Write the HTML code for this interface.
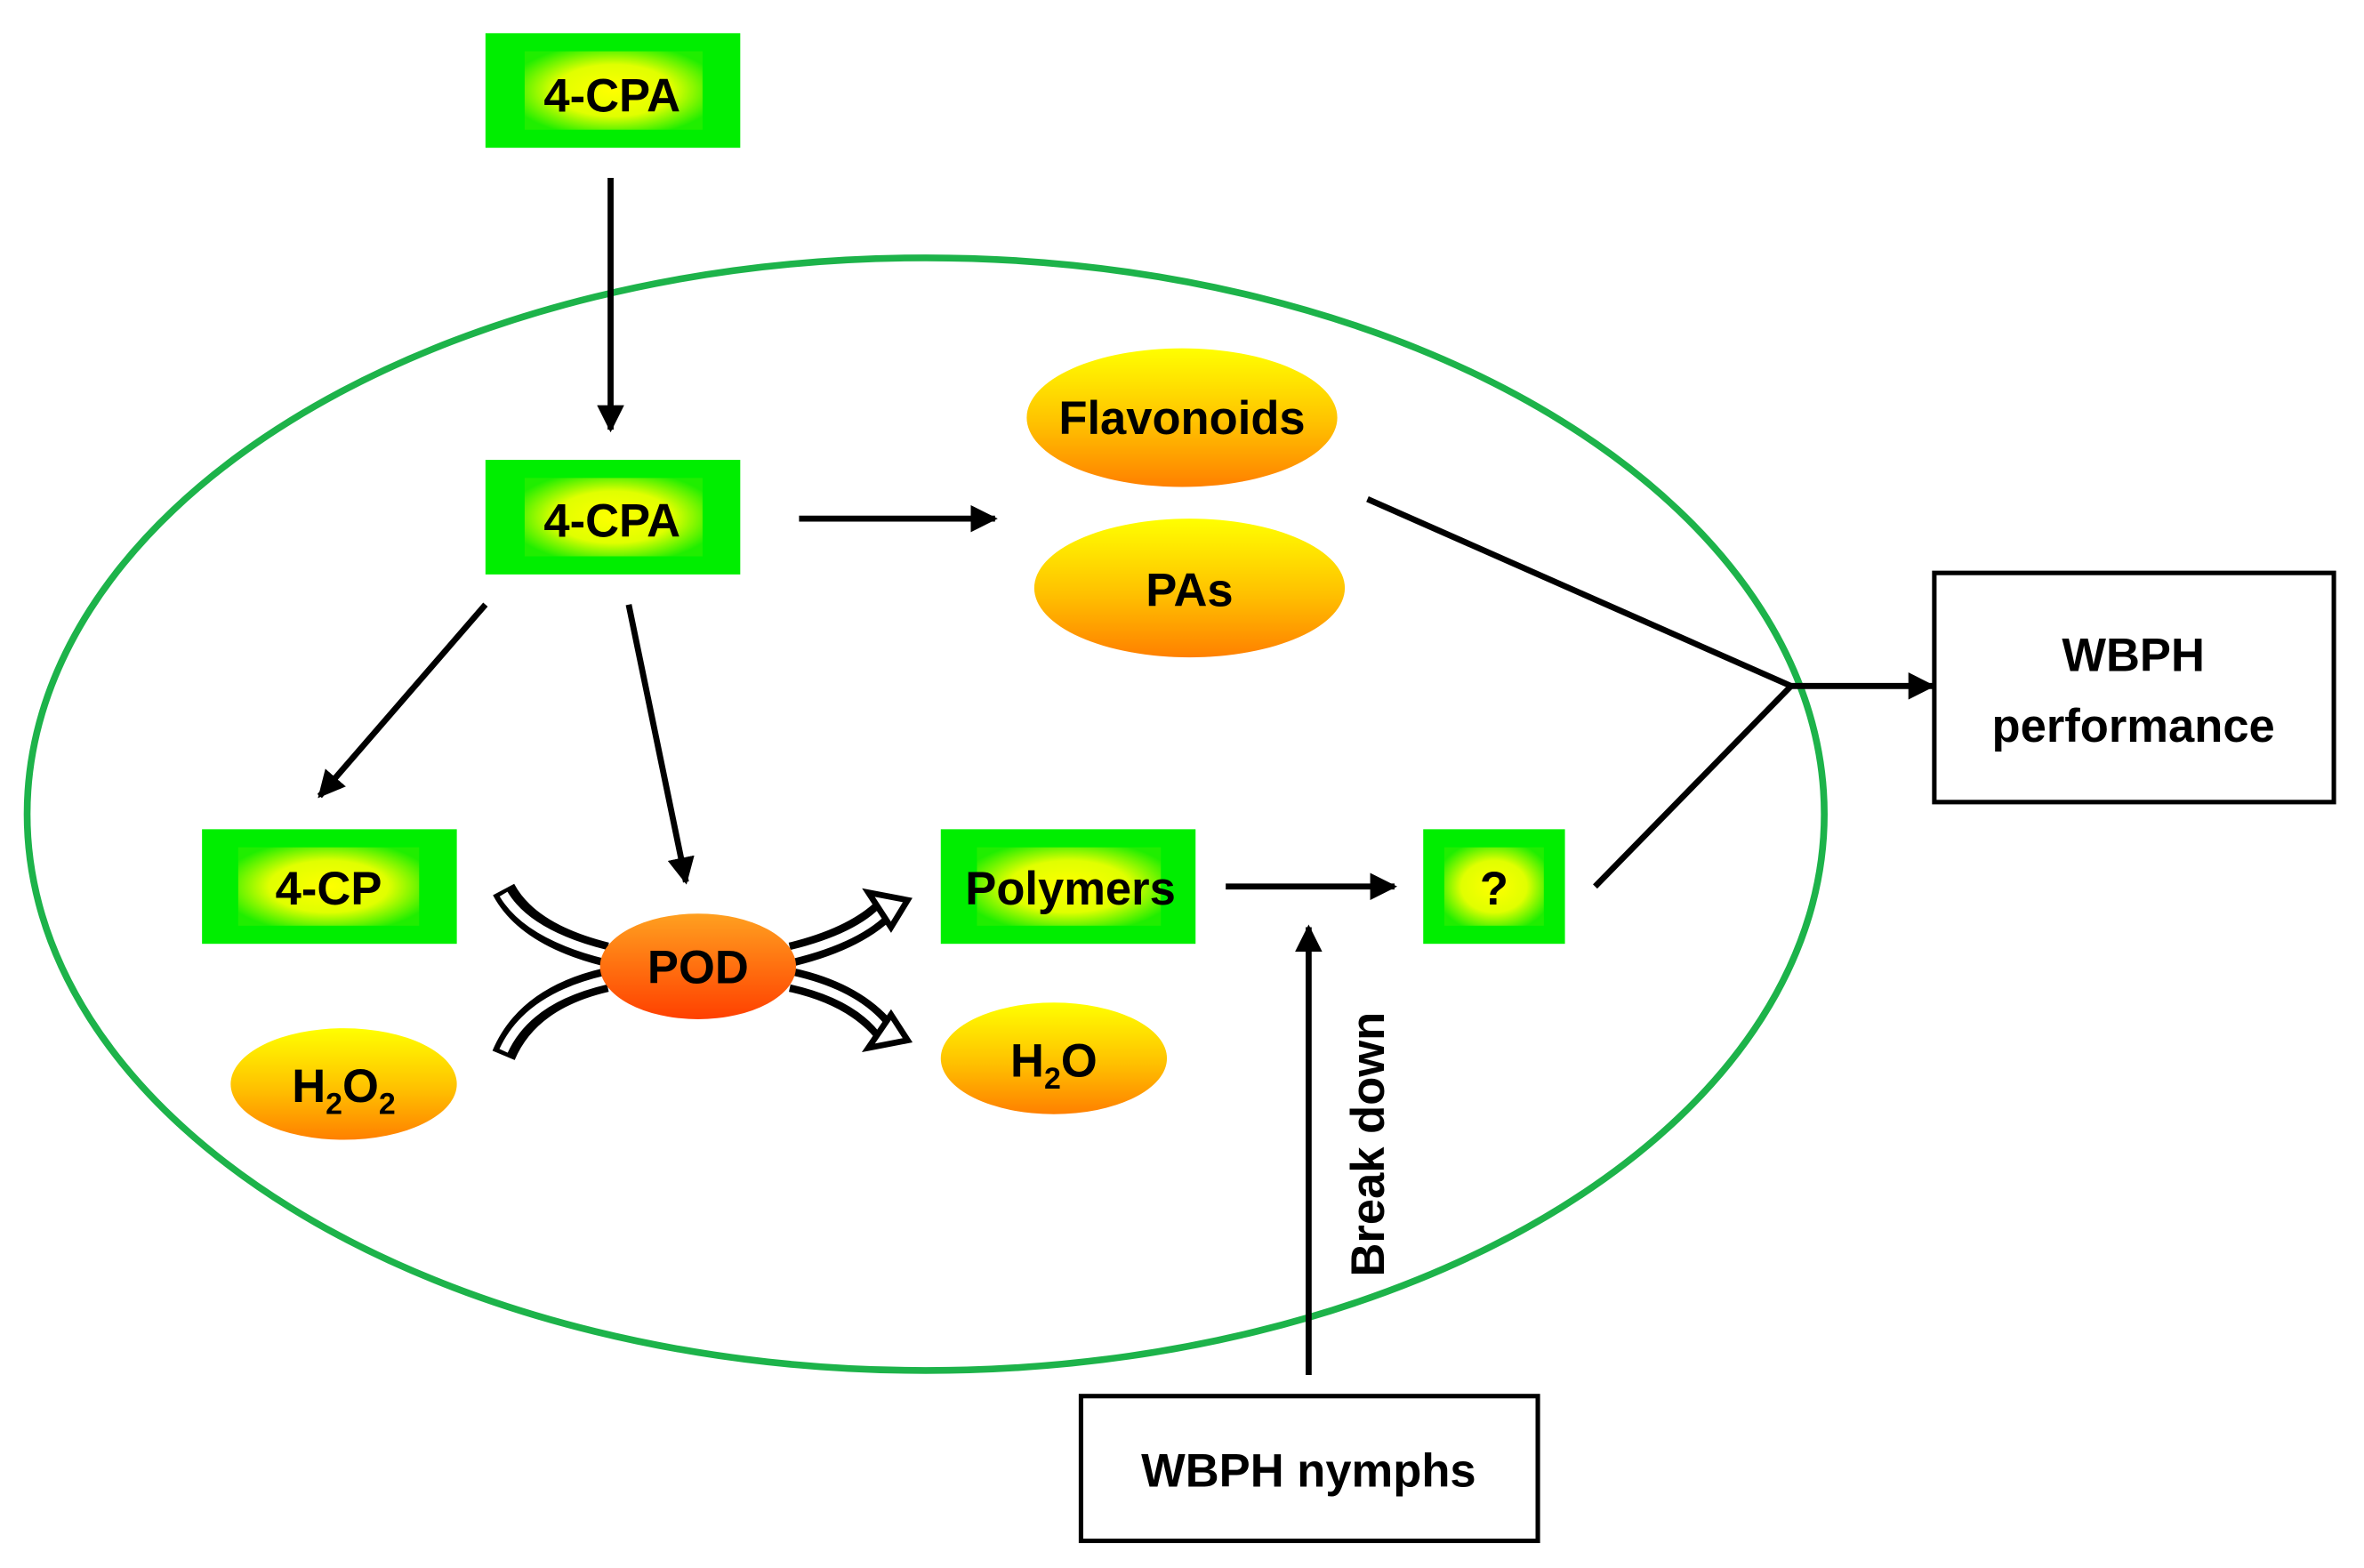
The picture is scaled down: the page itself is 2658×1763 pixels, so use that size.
<!DOCTYPE html>
<html><head><meta charset="utf-8"><style>
html,body{margin:0;padding:0;background:#fff;}
svg{display:block;}
text{font-family:"Liberation Sans",sans-serif;font-weight:bold;fill:#000;}
</style></head><body>
<svg width="2658" height="1763" viewBox="0 0 1568 1040" xmlns="http://www.w3.org/2000/svg">
<defs>
<radialGradient id="gy" cx="50%" cy="50%" r="60%">
<stop offset="0" stop-color="#ffff00"/><stop offset="0.55" stop-color="#e0ff00"/><stop offset="1" stop-color="#20ee00"/>
</radialGradient>
<linearGradient id="yo" x1="0" y1="0" x2="0" y2="1">
<stop offset="0" stop-color="#ffff00"/><stop offset="0.55" stop-color="#ffc000"/><stop offset="1" stop-color="#ff8000"/>
</linearGradient>
<linearGradient id="or" x1="0" y1="0" x2="0" y2="1">
<stop offset="0" stop-color="#ffa020"/><stop offset="1" stop-color="#ff4000"/>
</linearGradient>
<marker id="ah2" viewBox="0 0 10 10" markerWidth="18" markerHeight="18" refX="9" refY="5" orient="auto" markerUnits="userSpaceOnUse">
<path d="M0,0 L10,5 L0,10 Z" fill="#000"/>
</marker>
</defs>

<ellipse cx="614" cy="540" rx="596" ry="369" fill="none" stroke="#1db34a" stroke-width="4.5"/>

<g>
<rect x="322" y="22" width="169" height="76" fill="#00ee00"/>
<rect x="348" y="34" width="118" height="52" fill="url(#gy)"/>
<text x="406" y="74" font-size="31" text-anchor="middle">4-CPA</text>

<rect x="322" y="305" width="169" height="76" fill="#00ee00"/>
<rect x="348" y="317" width="118" height="52" fill="url(#gy)"/>
<text x="406" y="356" font-size="31" text-anchor="middle">4-CPA</text>

<rect x="134" y="550" width="169" height="76" fill="#00ee00"/>
<rect x="158" y="562" width="120" height="52" fill="url(#gy)"/>
<text x="218" y="600" font-size="31" text-anchor="middle">4-CP</text>

<rect x="624" y="550" width="169" height="76" fill="#00ee00"/>
<rect x="648" y="562" width="122" height="52" fill="url(#gy)"/>
<text x="710" y="600" font-size="31" text-anchor="middle">Polymers</text>

<rect x="944" y="550" width="94" height="76" fill="#00ee00"/>
<rect x="958" y="562" width="66" height="52" fill="url(#gy)"/>
<text x="991" y="600" font-size="31" text-anchor="middle">?</text>
</g>

<ellipse cx="784" cy="277" rx="103" ry="46" fill="url(#yo)"/>
<text x="784" y="288" font-size="31" text-anchor="middle">Flavonoids</text>
<ellipse cx="789" cy="390" rx="103" ry="46" fill="url(#yo)"/>
<text x="789" y="402" font-size="31" text-anchor="middle">PAs</text>
<ellipse cx="228" cy="719" rx="75" ry="37" fill="url(#yo)"/>
<text x="228" y="731" font-size="31" text-anchor="middle">H<tspan font-size="20" dy="8">2</tspan><tspan dy="-8">O</tspan><tspan font-size="20" dy="8">2</tspan></text>
<ellipse cx="699" cy="702" rx="75" ry="37" fill="url(#yo)"/>
<text x="699" y="714" font-size="31" text-anchor="middle">H<tspan font-size="20" dy="8">2</tspan><tspan dy="-8">O</tspan></text>

<g fill="none" stroke-linecap="butt">
<path d="M402,633 Q350,620 334,590" stroke="#000" stroke-width="16"/>
<path d="M402,633 Q350,620 334,593" stroke="#fff" stroke-width="6"/>
<path d="M402,650 Q350,662 334,700" stroke="#000" stroke-width="16"/>
<path d="M402,650 Q350,662 334,697" stroke="#fff" stroke-width="6"/>
<path d="M525,633 Q570,622 590,600" stroke="#000" stroke-width="16"/>
<path d="M525,633 Q570,622 588,602" stroke="#fff" stroke-width="6"/>
<path d="M525,650 Q570,660 590,688" stroke="#000" stroke-width="16"/>
<path d="M525,650 Q570,660 588,686" stroke="#fff" stroke-width="6"/>
</g>
<path d="M576,592 L602,597 L591,615 Z" fill="#fff" stroke="#000" stroke-width="4"/>
<path d="M576,695 L602,690 L591,673 Z" fill="#fff" stroke="#000" stroke-width="4"/>
<ellipse cx="463" cy="641" rx="65" ry="35" fill="url(#or)"/>
<text x="463" y="652" font-size="31" text-anchor="middle">POD</text>

<g stroke="#000" stroke-width="4" fill="none">
<line x1="405" y1="118" x2="405" y2="285" marker-end="url(#ah2)"/>
<line x1="530" y1="344" x2="660" y2="344" marker-end="url(#ah2)"/>
<line x1="322" y1="401" x2="212" y2="528" marker-end="url(#ah2)"/>
<line x1="417" y1="401" x2="455" y2="585" marker-end="url(#ah2)"/>
<line x1="813" y1="588" x2="925" y2="588" marker-end="url(#ah2)"/>
<line x1="868" y1="912" x2="868" y2="615" marker-end="url(#ah2)"/>
<line x1="907" y1="331" x2="1188" y2="455"/>
<line x1="1058" y1="588" x2="1188" y2="455"/>
<line x1="1186" y1="455" x2="1282" y2="455" marker-end="url(#ah2)"/>
</g>

<rect x="1283" y="380" width="265" height="152" fill="#fff" stroke="#000" stroke-width="3"/>
<text x="1415" y="445" font-size="31" text-anchor="middle">WBPH</text>
<text x="1415" y="492" font-size="31" text-anchor="middle">performance</text>

<rect x="717" y="926" width="303" height="96" fill="#fff" stroke="#000" stroke-width="3"/>
<text x="868" y="986" font-size="31" text-anchor="middle">WBPH nymphs</text>

<text transform="translate(918,759) rotate(-90)" font-size="31" text-anchor="middle">Break down</text>
</svg>
</body></html>
